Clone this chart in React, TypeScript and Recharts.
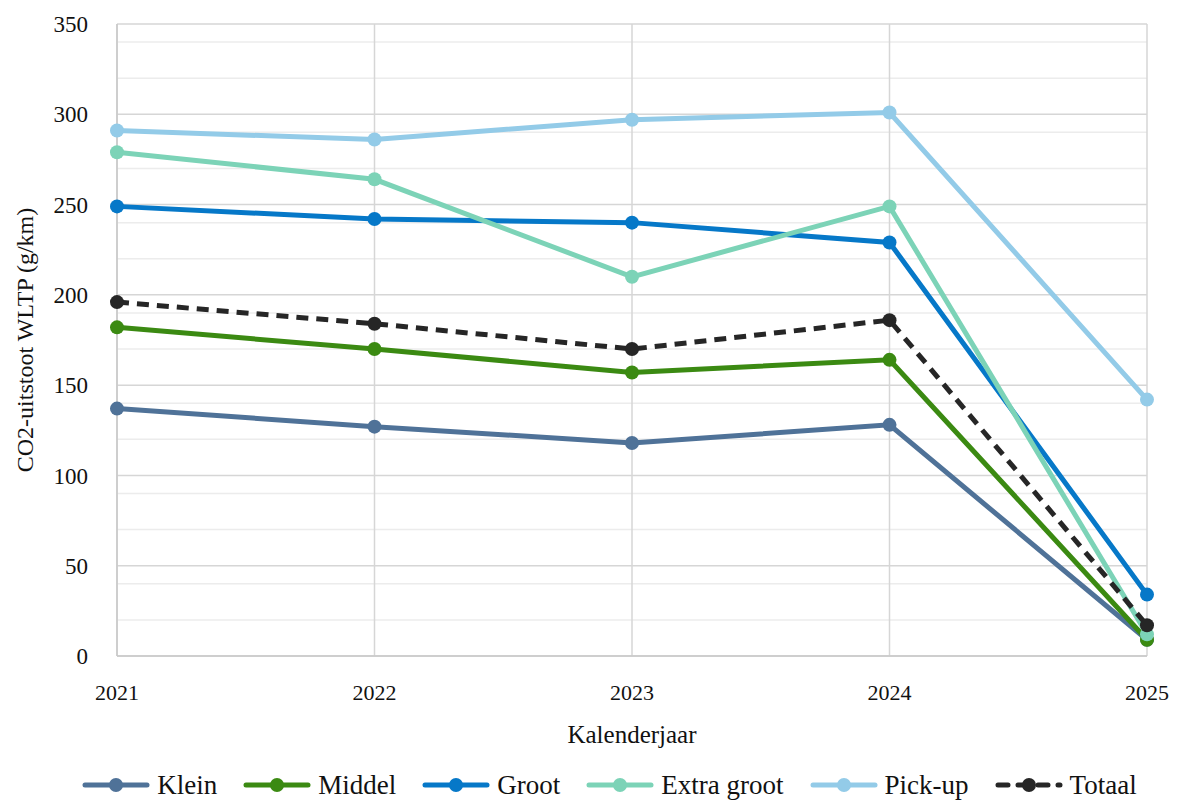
import React from 'react';
import { LineChart, Line, XAxis, YAxis, CartesianGrid, Legend } from 'recharts';

const years = ['2021', '2022', '2023', '2024', '2025'];
const klein = [137, 127, 118, 128, 9];
const middel = [182, 170, 157, 164, 9];
const groot = [249, 242, 240, 229, 34];
const extraGroot = [279, 264, 210, 249, 12];
const pickUp = [291, 286, 297, 301, 142];
const totaal = [196, 184, 170, 186, 17];

const majorTicks = [0, 50, 100, 150, 200, 250, 300, 350];
const minorTicks = [10, 20, 30, 40, 60, 70, 80, 90, 110, 120, 130, 140, 160, 170, 180, 190, 210, 220, 230, 240, 260, 270, 280, 290, 310, 320, 330, 340];

const FONT = '"Liberation Serif", serif';

const series = [
  { key: 'klein', name: 'Klein', color: '#4f7298', values: klein, dash: undefined },
  { key: 'middel', name: 'Middel', color: '#3b8a12', values: middel, dash: undefined },
  { key: 'groot', name: 'Groot', color: '#0678c8', values: groot, dash: undefined },
  { key: 'extra', name: 'Extra groot', color: '#7cd3b7', values: extraGroot, dash: undefined },
  { key: 'pickup', name: 'Pick-up', color: '#93cbe8', values: pickUp, dash: undefined },
  { key: 'totaal', name: 'Totaal', color: '#262626', values: totaal, dash: '12 8' },
];

const data = years.map((year, i) => {
  const row: any = { year };
  series.forEach(s => { row[s.key] = s.values[i]; });
  return row;
});

// Legend styled like the Excel original: line + dot icon, then the label
const CustomLegend = () => (
  <div style={{ display: 'flex', justifyContent: 'center', alignItems: 'center', height: 46, paddingTop: 10, paddingLeft: 72, boxSizing: 'border-box', fontFamily: FONT, fontSize: 27, color: '#111' }}>
    {series.map((s, i) => (
      <div key={s.key} style={{ display: 'flex', alignItems: 'center', marginRight: i === series.length - 1 ? 0 : 26 }}>
        <svg width={68} height={18} style={{ marginRight: 7 }}>
          <line x1={3} y1={9} x2={65} y2={9} stroke={s.color} strokeWidth={5} strokeLinecap="round" strokeDasharray={s.dash ? '10 10' : undefined} />
          <circle cx={34} cy={9} r={7} fill={s.color} />
        </svg>
        <span>{s.name}</span>
      </div>
    ))}
  </div>
);

const App: React.FC = () => {
  return (
    <div style={{ position: 'absolute', left: 0, top: 0, background: '#fff' }}>
      <LineChart width={1181} height={803} data={data} margin={{ top: 24, right: 34, left: 0, bottom: 0 }}>
        <CartesianGrid vertical={false} horizontalValues={minorTicks} stroke="#ececec" strokeWidth={1.5} />
        <CartesianGrid stroke="#d6d6d6" strokeWidth={1.5} />
        <XAxis
          dataKey="year"
          axisLine={{ stroke: '#c8c8c8', strokeWidth: 1.5 }}
          tickLine={false}
          tickSize={0}
          tickMargin={28}
          height={101}
          interval={0}
          tick={{ fontSize: 22, fill: '#111', fontFamily: FONT }}
          label={{ value: 'Kalenderjaar', position: 'insideBottom', offset: 14, style: { fontSize: 25, fill: '#111', fontFamily: FONT } }}
        />
        <YAxis
          domain={[0, 350]}
          ticks={majorTicks}
          width={117}
          axisLine={{ stroke: '#c8c8c8', strokeWidth: 1.5 }}
          tickLine={false}
          tickSize={0}
          tickMargin={29}
          tick={{ fontSize: 23, fill: '#111', fontFamily: FONT }}
          label={{ value: 'CO2-uitstoot WLTP (g/km)', angle: -90, position: 'insideLeft', offset: 24, style: { textAnchor: 'middle', fontSize: 24, fill: '#111', fontFamily: FONT } }}
        />
        {series.map(s => (
          <Line
            key={s.key}
            dataKey={s.key}
            name={s.name}
            type="linear"
            stroke={s.color}
            strokeWidth={5}
            strokeDasharray={s.dash}
            dot={{ r: 7, fill: s.color, stroke: s.color, strokeWidth: 0 }}
            activeDot={false}
            isAnimationActive={false}
          />
        ))}
        <Legend verticalAlign="bottom" height={46} content={<CustomLegend />} />
      </LineChart>
    </div>
  );
};

export default App;
